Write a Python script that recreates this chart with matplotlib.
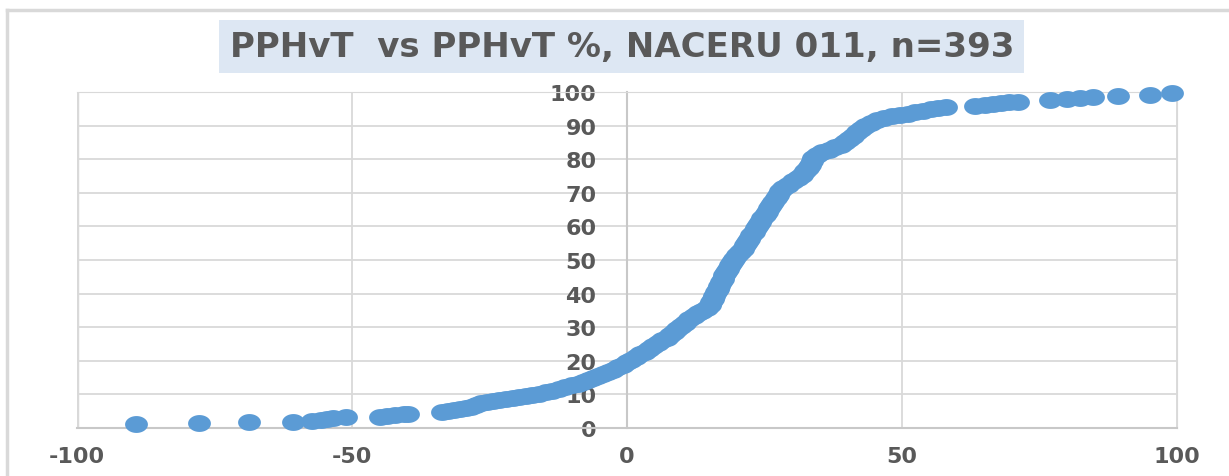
import numpy as np
import matplotlib
matplotlib.use('Agg')
import matplotlib.pyplot as plt
from matplotlib.path import Path
from matplotlib.lines import Line2D

plt.rcParams['axes.unicode_minus'] = False

# values (x = PPHvT, y = cumulative %)
tail_left_x = [-89.3, -77.8, -68.7, -60.8, -57.3, -55.6, -54.5, -53.4, -51.1,
               -44.9, -43.6, -42.2, -40.6, -39.8]
tail_left_y = [1.2, 1.5, 1.8, 1.9, 2.1, 2.4, 2.7, 3.0, 3.3,
               3.4, 3.6, 3.8, 4.1, 4.3]

body_x = [-33.7, -32.6, -31.5, -30.4, -29.3, -28.3, -27.4, -26.5, -25.5, -24.4,
          -23.2, -22.0, -20.8, -19.6, -18.4, -17.2, -16.0, -14.8, -13.6, -12.4,
          -11.2, -10.0, -9.0, -8.0, -7.1, -6.2, -5.3, -4.4, -3.5, -2.6,
          -1.7, -0.8, 0.0, 0.8, 1.6, 2.4, 3.2, 4.0, 4.8, 5.6,
          6.4, 7.2, 7.9, 8.5, 9.1, 9.8, 10.5, 11.3, 12.1, 12.9,
          13.7, 14.5, 15.0, 15.3, 15.6, 15.9, 16.2, 16.5, 16.8, 17.1,
          17.4, 17.7, 18.0, 18.3, 18.7, 19.1, 19.5, 20.0, 20.5, 21.0,
          21.4, 21.8, 22.2, 22.6, 23.0, 23.4, 23.8, 24.2, 24.6, 25.0,
          25.4, 25.8, 26.2, 26.6, 27.0, 27.4, 27.9, 28.4, 29.2, 30.1,
          31.0, 31.8, 32.4, 32.9, 33.3, 33.6, 33.9, 34.5, 35.5, 36.7,
          37.9, 38.9, 39.7, 40.4, 41.1, 41.8, 42.5, 43.3, 44.3, 45.5,
          46.8, 48.2, 49.6, 51.0, 52.4, 53.8, 55.2, 56.6, 58.0]
body_y = [4.7, 5.0, 5.3, 5.6, 5.9, 6.3, 6.8, 7.3, 7.7, 8.1,
          8.4, 8.7, 9.0, 9.2, 9.4, 9.7, 10.1, 10.6, 11.1, 11.7,
          12.2, 12.7, 13.1, 13.6, 14.2, 14.9, 15.5, 16.1, 16.7, 17.4,
          18.1, 18.9, 19.6, 20.3, 21.1, 21.9, 22.7, 23.5, 24.4, 25.3,
          26.1, 26.8, 27.6, 28.6, 29.6, 30.5, 31.4, 32.3, 33.3, 34.2,
          34.9, 35.6, 36.5, 37.4, 38.4, 39.4, 40.4, 41.4, 42.4, 43.4,
          44.4, 45.4, 46.4, 47.4, 48.4, 49.4, 50.4, 51.4, 52.4, 53.4,
          54.4, 55.4, 56.4, 57.4, 58.4, 59.4, 60.4, 61.4, 62.4, 63.4,
          64.4, 65.4, 66.4, 67.4, 68.4, 69.4, 70.4, 71.4, 72.4, 73.4,
          74.4, 75.4, 76.4, 77.4, 78.4, 79.4, 80.4, 81.3, 82.0, 82.8,
          83.5, 84.2, 85.1, 86.0, 87.0, 88.0, 89.0, 89.9, 90.8, 91.6,
          92.3, 92.8, 93.2, 93.6, 94.0, 94.4, 94.8, 95.2, 95.6]

tail_right_x = [63.3, 65.0, 66.6, 68.0, 69.5, 71.0, 76.9, 80.0, 82.4, 84.8,
                89.3, 95.1, 99.0]
tail_right_y = [95.7, 96.0, 96.4, 96.7, 96.9, 97.1, 97.6, 97.9, 98.2, 98.4,
                98.8, 99.2, 99.7]

x_ticks = [-100, -50, 0, 50, 100]
y_ticks = [0, 10, 20, 30, 40, 50, 60, 70, 80, 90, 100]
title = 'PPHvT  vs PPHvT %, NACERU 011, n=393'

x = tail_left_x + body_x + tail_right_x
y = tail_left_y + body_y + tail_right_y

# Excel-like dots are a bit wider than tall in the screenshot
t = np.linspace(0, 2 * np.pi, 60)
ellipse = Path(np.column_stack([np.cos(t), 0.74 * np.sin(t)]), closed=True)

grey_text = '#595959'
grid_col = '#d9d9d9'

fig = plt.figure(figsize=(12.29, 4.77), dpi=100)
ax = fig.add_axes([0.0627, 0.1006, 0.895, 0.7044])

ax.scatter(x, y, s=270, marker=ellipse, color='#5b9bd5', linewidths=0,
           zorder=3, clip_on=False)

ax.set_xlim(-100, 100)
ax.set_ylim(0, 100)
ax.set_xticks(x_ticks)
ax.set_yticks(y_ticks)
ax.grid(True, color=grid_col, linewidth=1.3)
ax.set_axisbelow(True)

ax.spines['left'].set_position(('data', 0))
ax.spines['left'].set_color('#c8c8c8')
ax.spines['left'].set_linewidth(1.5)
ax.spines['bottom'].set_color('#c8c8c8')
ax.spines['bottom'].set_linewidth(1.5)
ax.spines['top'].set_color(grid_col)
ax.spines['right'].set_color(grid_col)
ax.axvline(-100, color=grid_col, linewidth=2.5, zorder=1)

ax.tick_params(length=0, labelcolor=grey_text, labelsize=16)
ax.tick_params(axis='x', pad=13)
ax.tick_params(axis='y', pad=22)
for lab in ax.get_xticklabels() + ax.get_yticklabels():
    lab.set_fontweight('bold')

fig.text(0.506, 0.90, title, ha='center', va='center', fontsize=24.5,
         fontweight='bold', color=grey_text,
         bbox=dict(boxstyle='square,pad=0.3', facecolor='#dde7f3', edgecolor='none'))

# outer chart frame (top and left edges visible in the screenshot)
fig.add_artist(Line2D([7 / 1229, 7 / 1229], [0, 1 - 11 / 477],
                      transform=fig.transFigure, color=grid_col, linewidth=2.5))
fig.add_artist(Line2D([7 / 1229, 1], [1 - 11 / 477, 1 - 11 / 477],
                      transform=fig.transFigure, color=grid_col, linewidth=2.5))

fig.savefig('out.png', dpi=100)
